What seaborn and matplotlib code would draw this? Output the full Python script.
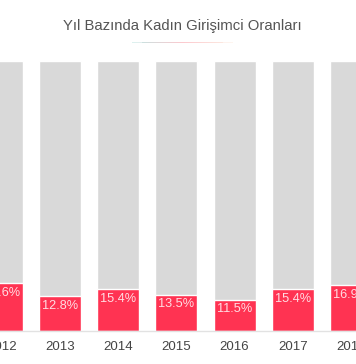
import numpy as np
import pandas as pd
import seaborn as sns
import matplotlib.pyplot as plt

sns.set_theme(style="white")
plt.rcParams['font.family'] = ['Liberation Sans', 'DejaVu Sans']

years = ["2012", "2013", "2014", "2015", "2016", "2017", "2018"]
rates = [17.6, 12.8, 15.4, 13.5, 11.5, 15.4, 16.9]
totals = [100, 100, 100, 100, 100, 100, 100]

df = pd.DataFrame({"Yil": years, "Oran": rates, "Toplam": totals})

fig = plt.figure(figsize=(3.56, 3.64), dpi=100)
ax = fig.add_axes([0, 0.0907, 1, 0.7418])

sns.barplot(data=df, x="Yil", y="Toplam", color="#d9d9d9", width=0.72,
            saturation=1, ax=ax)
sns.barplot(data=df, x="Yil", y="Oran", color="#ff3352", width=0.72,
            saturation=1, ax=ax)

for i, r in enumerate(rates):
    ax.text(i, r - 3.5, f"{r}%", ha="center", va="center",
            color="#ffdde3", fontsize=9.2)

ax.set_xlim(-0.031, 6.086)
ax.set_ylim(0, 100)
ax.set_xlabel("")
ax.set_ylabel("")
ax.set_yticks([])
ax.tick_params(axis="x", length=0, pad=7, labelsize=9.5, colors="#444444")
for s in ["top", "left", "right"]:
    ax.spines[s].set_visible(False)
ax.spines["bottom"].set_color("#e2e2e2")
ax.spines["bottom"].set_linewidth(1.0)

fig.text(0.513, 0.929, "Yıl Bazında Kadın Girişimci Oranları", ha="center",
         va="center", fontsize=10.7, color="#555555")

# faint gradient rule under the title
gax = fig.add_axes([132 / 356, 1 - 43 / 364, 101 / 356, 1.5 / 364])
grad = np.zeros((1, 100, 4))
left = np.array([0.55, 0.82, 0.80])
mid = np.array([0.98, 0.62, 0.66])
right = np.array([0.99, 0.88, 0.80])
for k in range(100):
    t = k / 99
    if t < 0.5:
        c = left + (mid - left) * t * 2
    else:
        c = mid + (right - mid) * (t - 0.5) * 2
    a = 0.55 if 0.1 < t < 0.9 else 0.3
    grad[0, k] = [*c, a]
gax.imshow(grad, aspect="auto")
gax.axis("off")

fig.savefig("out.png", dpi=100)
